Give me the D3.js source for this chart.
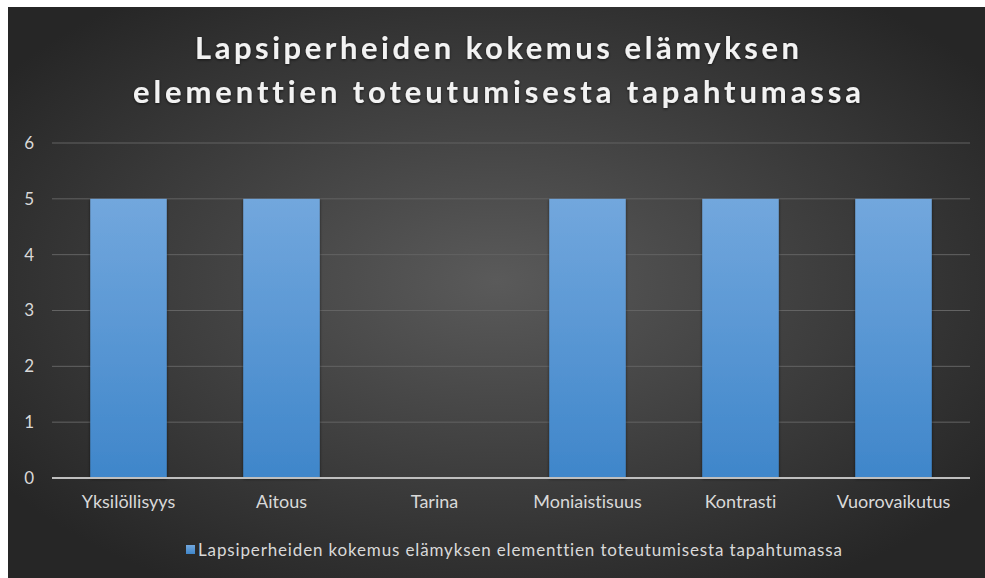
<!DOCTYPE html>
<meta charset="utf-8">
<style>
body { margin: 0; background: #fff; }
svg text { font-variant-ligatures: none; }
.axis text { fill: #d9d9d9; font-family: Lato, "Open Sans", sans-serif; font-size: 18px; }
.axis--y text { font-size: 17px; }
.axis path, .axis line { display: none; }
.grid line { stroke: #636363; stroke-width: 1; }
</style>
<body>
<script src="https://d3js.org/d3.v7.min.js"></script>
<script>
var categories = ["Yksilöllisyys", "Aitous", "Tarina", "Moniaistisuus", "Kontrasti", "Vuorovaikutus"];
var values = [5, 5, 0, 5, 5, 5];
var yTicks = [0, 1, 2, 3, 4, 5, 6];
var titleLines = ["Lapsiperheiden kokemus elämyksen", "elementtien toteutumisesta tapahtumassa"];
var seriesName = "Lapsiperheiden kokemus elämyksen elementtien toteutumisesta tapahtumassa";

var w = 985, h = 578;
var svg = d3.select("body").append("svg").attr("width", w).attr("height", h);

var defs = svg.append("defs");
var bg = defs.append("radialGradient").attr("id", "bg")
    .attr("cx", "50%").attr("cy", "48%").attr("r", "62%");
bg.append("stop").attr("offset", "0%").attr("stop-color", "#5a5a5a");
bg.append("stop").attr("offset", "100%").attr("stop-color", "#262626");

var barGrad = defs.append("linearGradient").attr("id", "barGrad")
    .attr("x1", 0).attr("y1", 0).attr("x2", 0).attr("y2", 1);
barGrad.append("stop").attr("offset", "0%").attr("stop-color", "#72a7dd");
barGrad.append("stop").attr("offset", "100%").attr("stop-color", "#3f86ca");

var glow = defs.append("filter").attr("id", "glow");
glow.append("feDropShadow").attr("dx", 0).attr("dy", 1).attr("stdDeviation", 1.5)
    .attr("flood-color", "#000").attr("flood-opacity", 0.6);

svg.append("rect").attr("x", 8).attr("y", 7).attr("width", w - 8).attr("height", h - 7)
    .attr("fill", "url(#bg)");

var margin = {left: 52, right: 15};
var x = d3.scaleBand().domain(categories).range([margin.left, w - margin.right])
    .paddingInner(0.5).paddingOuter(0.25);
var y = d3.scaleLinear().domain([0, 6]).range([478, 143]);

// grid
svg.append("g").attr("class", "grid")
  .selectAll("line").data(yTicks.filter(function(d) { return d > 0; }))
  .enter().append("line")
    .attr("x1", margin.left).attr("x2", w - margin.right)
    .attr("y1", function(d) { return y(d); }).attr("y2", function(d) { return y(d); });

// bars
svg.selectAll(".bar").data(values)
  .enter().append("rect")
    .attr("class", "bar")
    .attr("x", function(d, i) { return x(categories[i]); })
    .attr("y", function(d) { return y(d); })
    .attr("width", x.bandwidth())
    .attr("height", function(d) { return y(0) - y(d); })
    .attr("fill", "url(#barGrad)")
    .attr("filter", "url(#glow)");

// zero line
svg.append("line")
    .attr("x1", margin.left).attr("x2", w - margin.right)
    .attr("y1", y(0)).attr("y2", y(0))
    .attr("stroke", "#bfbfbf").attr("stroke-width", 2);

// axes
svg.append("g").attr("class", "axis axis--y")
    .attr("transform", "translate(" + margin.left + ",0)")
    .call(d3.axisLeft(y).tickValues(yTicks).tickFormat(d3.format("d")).tickSize(0).tickPadding(18));

svg.append("g").attr("class", "axis")
    .attr("transform", "translate(0," + y(0) + ")")
    .call(d3.axisBottom(x).tickSize(0).tickPadding(17));

// title
var titleWidths = [604, 728];
svg.append("g").selectAll("text").data(titleLines)
  .enter().append("text")
    .attr("x", 497)
    .attr("y", function(d, i) { return 59 + i * 44; })
    .attr("text-anchor", "middle")
    .attr("fill", "#f2f2f2")
    .attr("font-family", "Lato, 'Open Sans', sans-serif")
    .attr("font-weight", "bold")
    .attr("font-size", "31px")
    .attr("textLength", function(d, i) { return titleWidths[i]; })
    .attr("lengthAdjust", "spacing")
    .attr("filter", "url(#glow)")
    .text(function(d) { return d; });

// legend
var leg = svg.append("g");
leg.append("rect").attr("x", 186).attr("y", 545).attr("width", 9).attr("height", 9)
    .attr("fill", "url(#barGrad)");
leg.append("text").attr("x", 198).attr("y", 556)
    .attr("fill", "#d9d9d9")
    .attr("font-family", "Lato, 'Open Sans', sans-serif")
    .attr("font-size", "17px")
    .attr("textLength", 644)
    .attr("lengthAdjust", "spacing")
    .text(seriesName);
</script>
</body>
